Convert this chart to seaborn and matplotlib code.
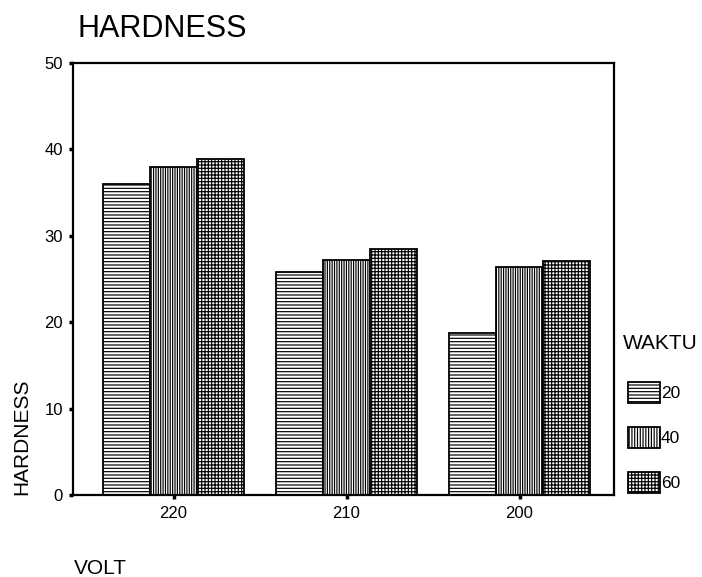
import matplotlib
matplotlib.use('Agg')
import matplotlib.pyplot as plt
import seaborn as sns
import pandas as pd
from matplotlib.patches import Patch

# ---- data ----
volt = ['220', '210', '200']
waktu = ['20', '40', '60']
hard_20 = [36.0, 25.8, 18.7]
hard_40 = [38.0, 27.2, 26.4]
hard_60 = [38.9, 28.5, 27.1]
yticks = [0, 10, 20, 30, 40, 50]
title = 'HARDNESS'
ylabel = 'HARDNESS'
xlabel = 'VOLT'
legend_title = 'WAKTU'

sns.set_style('ticks')
plt.rcParams['font.family'] = ['Liberation Sans', 'DejaVu Sans']
plt.rcParams['hatch.linewidth'] = 0.85
plt.rcParams['hatch.color'] = 'black'
plt.rcParams['text.color'] = 'black'
plt.rcParams['axes.labelcolor'] = 'black'
plt.rcParams['xtick.color'] = 'black'
plt.rcParams['ytick.color'] = 'black'

df = pd.DataFrame({
    'VOLT': volt * 3,
    'WAKTU': [w for w in waktu for _ in volt],
    'HARDNESS': hard_20 + hard_40 + hard_60,
})

W, H = 702, 577
fig = plt.figure(figsize=(W / 100, H / 100), dpi=100)
ax = fig.add_axes([72.5 / W, 82 / H, 541.5 / W, 432 / H])

sns.barplot(data=df, x='VOLT', y='HARDNESS', hue='WAKTU', order=volt,
            hue_order=waktu, palette={w: 'white' for w in waktu},
            width=0.815, edgecolor='black', linewidth=1.3, ax=ax,
            legend=False, errorbar=None, saturation=1)

hatches = ['-----', '|||||||', '+++++']
for cont, h in zip(ax.containers, hatches):
    for p in cont:
        p.set_hatch(h)

ax.set_xlim(-0.584, 2.546)
ax.set_ylim(0, 50)
ax.set_yticks(yticks)
ax.set_xlabel('')
ax.set_ylabel('')
for s in ax.spines.values():
    s.set_visible(True)
    s.set_linewidth(1.6)
    s.set_color('black')
ax.tick_params(axis='y', direction='out', length=3, width=2.5, pad=4,
               labelsize=12, colors='black')
ax.tick_params(axis='x', direction='out', length=3, width=2.5, pad=5,
               labelsize=12, colors='black')

# Title, axis labels
fig.text(78 / W, 1 - 37 / H, title, fontsize=22, ha='left', va='baseline')
fig.text(27 / W, 1 - 495 / H, ylabel, fontsize=15, rotation=90,
         rotation_mode='anchor', ha='left', va='baseline')
fig.text(74 / W, 1 - 574 / H, xlabel, fontsize=15, ha='left', va='baseline')

# Legend
fig.text(623 / W, 1 - 349 / H, legend_title, fontsize=15, ha='left',
         va='baseline')
leg_hatches = ['-----', '||||||', '+++++']
handles = [Patch(facecolor='white', edgecolor='black', hatch=h,
                 linewidth=1.3, label=w) for h, w in zip(leg_hatches, waktu)]
lfs = 12.5
fs = lfs * 100 / 72
hh = (21 / fs - 0.245) / 0.65
ax.legend(handles=handles, loc='upper left',
          bbox_to_anchor=(628 / W, 1 - 382 / H),
          bbox_transform=fig.transFigure, frameon=False, fontsize=lfs,
          handlelength=32 / fs, handleheight=hh,
          labelspacing=(45 - 21) / fs, handletextpad=0.05, borderpad=0,
          borderaxespad=0)

fig.savefig('out.png', dpi=100)
